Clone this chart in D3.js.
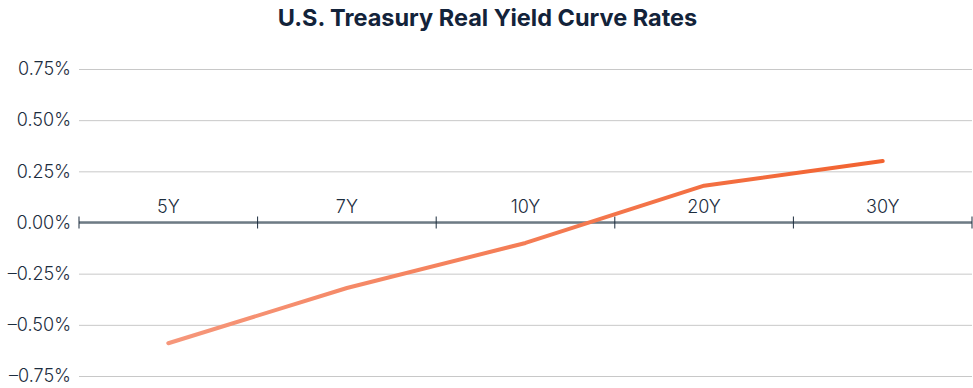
<!DOCTYPE html>
<html>
<head>
<meta charset="utf-8">
<script src="https://cdn.jsdelivr.net/npm/d3@7"></script>
<style>
  body { margin: 0; background: #fff; }
  text { font-family: Inter, "Open Sans", sans-serif; }
</style>
</head>
<body>
<svg width="973" height="388"></svg>
<script>
var terms = ["5Y", "7Y", "10Y", "20Y", "30Y"];
var rates = [-0.59, -0.32, -0.10, 0.18, 0.30];
var yTicks = [-0.75, -0.5, -0.25, 0, 0.25, 0.5, 0.75];

var svg = d3.select("svg"),
    width = +svg.attr("width"),
    height = +svg.attr("height");
var plotLeft = 79, plotRight = 972, plotTop = 69, plotBottom = 376;

var x = d3.scaleBand().domain(terms).range([plotLeft, plotRight]);
var y = d3.scaleLinear().domain([-0.75, 0.75]).range([plotBottom, plotTop]);

svg.append("text")
  .attr("x", width / 2 + 1).attr("y", 26)
  .attr("text-anchor", "middle")
  .attr("font-size", 23.5).attr("font-weight", 700)
  .attr("letter-spacing", 0)
  .attr("fill", "#13233a")
  .text("U.S. Treasury Real Yield Curve Rates");

// gridlines + y labels
var yAxis = svg.append("g")
  .attr("transform", "translate(" + plotLeft + ",0)")
  .call(d3.axisLeft(y).tickValues(yTicks)
    .tickSize(-(plotRight - plotLeft)).tickPadding(8)
    .tickFormat(function(d) { return d3.format(".2f")(d).replace("−", "–") + "%"; }));
yAxis.select(".domain").remove();
yAxis.selectAll(".tick line").attr("stroke", "#c8c8c8").attr("stroke-width", 1);
yAxis.selectAll(".tick text").attr("font-size", 18).attr("fill", "#1c2d3e")
  .attr("font-weight", 300)
  .style("font-family", "Inter, 'Open Sans', sans-serif");

// category axis at zero
var xAxis = svg.append("g")
  .attr("transform", "translate(0," + y(0) + ")");
xAxis.append("line")
  .attr("x1", plotLeft).attr("x2", plotRight)
  .attr("stroke", "#6e7b85").attr("stroke-width", 2.5);
var edges = terms.map(function(t) { return x(t); }).concat([plotRight]);
xAxis.selectAll(".edge").data(edges).enter().append("line")
  .attr("x1", function(d) { return d; }).attr("x2", function(d) { return d; })
  .attr("y1", -6).attr("y2", 6)
  .attr("stroke", "#1c2d3e").attr("stroke-width", 1);
xAxis.selectAll(".lbl").data(terms).enter().append("text")
  .attr("x", function(d) { return x(d) + x.bandwidth() / 2; })
  .attr("y", -10)
  .attr("text-anchor", "middle")
  .attr("font-size", 18).attr("font-weight", 300).attr("fill", "#1c2d3e")
  .text(function(d) { return d; });

// gradient line
var defs = svg.append("defs");
var grad = defs.append("linearGradient")
  .attr("id", "lg").attr("gradientUnits", "userSpaceOnUse")
  .attr("x1", x(terms[0]) + x.bandwidth() / 2).attr("x2", x(terms[4]) + x.bandwidth() / 2)
  .attr("y1", 0).attr("y2", 0);
grad.append("stop").attr("offset", "0%").attr("stop-color", "#f6977b");
grad.append("stop").attr("offset", "100%").attr("stop-color", "#f2622f");

var line = d3.line()
  .x(function(d, i) { return x(terms[i]) + x.bandwidth() / 2; })
  .y(function(d) { return y(d); });

svg.append("path")
  .datum(rates)
  .attr("d", line)
  .attr("fill", "none")
  .attr("stroke", "url(#lg)")
  .attr("stroke-width", 4)
  .attr("stroke-linecap", "round")
  .attr("stroke-linejoin", "round");
</script>
</body>
</html>
